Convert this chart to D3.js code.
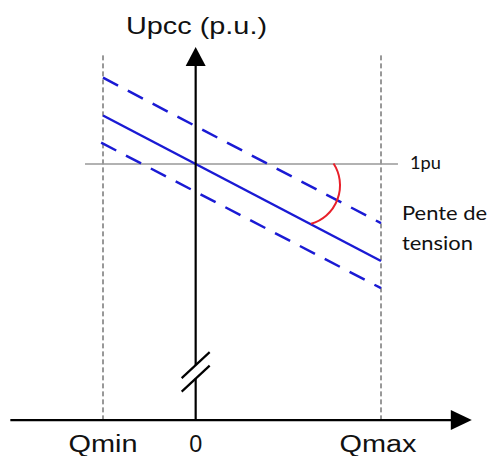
<!DOCTYPE html>
<html>
<head>
<meta charset="utf-8">
<script src="https://cdn.jsdelivr.net/npm/d3@7"></script>
<style>
  html, body { margin: 0; padding: 0; background: #fff; }
  svg { display: block; }
</style>
</head>
<body>
<svg id="chart" width="488" height="456"></svg>
<script>
// ---- data ----
const qTickLabels = ["Qmin", "0", "Qmax"];
const qTickValues = [-1, 0, 2];
const droopQ = [-1, 2];
const droopU = [1.05, 0.90];
const upperQ = [-1, 2];
const upperU = [1.089, 0.939];
const lowerQ = [-1.02, 2];
const lowerU = [1.022, 0.872];
const refU = 1.0;
const refQRange = [-1.194, 2.183];
const boundTopU = 1.112;
const axisU = 0.736;          // where the horizontal Q axis sits
const axisQRange = [-2.0, 2.98];
const vAxisTopU = 1.1206;
const breakU = 0.786;
const arcCenter = [1.126, 0.978];
const arcAnglesDeg = [-33, 74];
const yLabel = "Upcc (p.u.)";
const refLabel = "1pu";
const slopeLabel = ["Pente de", "tension"];

// ---- scales ----
const x = d3.scaleLinear().domain([-1, 2]).range([103, 381]);
const y = d3.scaleLinear().domain([1, 1.05]).range([164, 115.5]);

const svg = d3.select("#chart");
const line = d3.line().x(d => x(d[0])).y(d => y(d[1]));

// dashed boundaries Qmin / Qmax
svg.selectAll(".bound").data([qTickValues[0], qTickValues[2]]).enter()
  .append("line")
  .attr("x1", d => x(d)).attr("x2", d => x(d))
  .attr("y1", y(boundTopU)).attr("y2", y(axisU))
  .attr("stroke", "#333").attr("stroke-width", 1)
  .attr("stroke-dasharray", "5,3");

// 1pu reference line
svg.append("line")
  .attr("x1", x(refQRange[0])).attr("x2", x(refQRange[1]))
  .attr("y1", y(refU)).attr("y2", y(refU))
  .attr("stroke", "#999").attr("stroke-width", 1.5);

// droop lines
const blue = "#1a1ad4";
svg.append("path").datum(d3.zip(upperQ, upperU)).attr("d", line)
  .attr("fill", "none").attr("stroke", blue).attr("stroke-width", 2.5)
  .attr("stroke-dasharray", "17,11");
svg.append("path").datum(d3.zip(droopQ, droopU)).attr("d", line)
  .attr("fill", "none").attr("stroke", blue).attr("stroke-width", 2.5);
svg.append("path").datum(d3.zip(lowerQ, lowerU)).attr("d", line)
  .attr("fill", "none").attr("stroke", blue).attr("stroke-width", 2.5)
  .attr("stroke-dasharray", "17,11");

// red angle arc
const p = d3.path();
p.arc(x(arcCenter[0]), y(arcCenter[1]), 40,
      arcAnglesDeg[0] * Math.PI / 180, arcAnglesDeg[1] * Math.PI / 180, false);
svg.append("path").attr("d", p.toString())
  .attr("fill", "none").attr("stroke", "#e8202a").attr("stroke-width", 2);

// horizontal axis with arrow
const ax0 = x(axisQRange[0]), ax1 = x(axisQRange[1]), ay = y(axisU);
svg.append("line").attr("x1", ax0).attr("x2", ax1 - 20).attr("y1", ay).attr("y2", ay)
  .attr("stroke", "#000").attr("stroke-width", 2.2);
svg.append("path")
  .attr("d", `M${ax1},${ay} L${ax1 - 21},${ay - 10} L${ax1 - 21},${ay + 10} Z`)
  .attr("fill", "#000");

// vertical axis with arrow and break
const vx = x(0), vt = y(vAxisTopU), by = y(breakU);
svg.append("line").attr("x1", vx).attr("x2", vx).attr("y1", vt + 17).attr("y2", by - 6.5)
  .attr("stroke", "#000").attr("stroke-width", 2.2);
svg.append("line").attr("x1", vx).attr("x2", vx).attr("y1", by + 7).attr("y2", ay)
  .attr("stroke", "#000").attr("stroke-width", 2.2);
svg.append("path")
  .attr("d", `M${vx},${vt} L${vx - 10},${vt + 19} L${vx + 10},${vt + 19} Z`)
  .attr("fill", "#000");
[-6.5, 7].forEach(o => {
  svg.append("line")
    .attr("x1", vx - 14).attr("y1", by + o + 13)
    .attr("x2", vx + 14).attr("y2", by + o - 13)
    .attr("stroke", "#000").attr("stroke-width", 2.2);
});

// texts
svg.append("text").attr("x", 126).attr("y", 34)
  .attr("font-family", "Liberation Sans, Arial, sans-serif").attr("font-size", 24)
  .attr("textLength", 141).attr("lengthAdjust", "spacingAndGlyphs")
  .attr("fill", "#111").text(yLabel);

const tickWidths = [69, 13, 77];
svg.selectAll(".qtick").data(qTickLabels).enter().append("text")
  .attr("x", (d, i) => x(qTickValues[i]) - (i === 2 ? 3 : 0))
  .attr("y", 452)
  .attr("text-anchor", "middle")
  .attr("font-family", "Liberation Sans, Arial, sans-serif").attr("font-size", 23)
  .attr("textLength", (d, i) => tickWidths[i]).attr("lengthAdjust", "spacingAndGlyphs")
  .attr("fill", "#111").text(d => d);

svg.append("text").attr("x", 410).attr("y", 169)
  .attr("font-family", "Lato, Open Sans, sans-serif").attr("font-size", 18)
  .attr("textLength", 31).attr("lengthAdjust", "spacingAndGlyphs")
  .attr("fill", "#111").text(refLabel);

const slopeW = [85, 71];
svg.selectAll(".slope").data(slopeLabel).enter().append("text")
  .attr("x", 402).attr("y", (d, i) => 220 + i * 30)
  .attr("font-family", "Lato, Open Sans, sans-serif").attr("font-size", 20)
  .attr("textLength", (d, i) => slopeW[i]).attr("lengthAdjust", "spacingAndGlyphs")
  .attr("fill", "#111").text(d => d);
</script>
</body>
</html>
